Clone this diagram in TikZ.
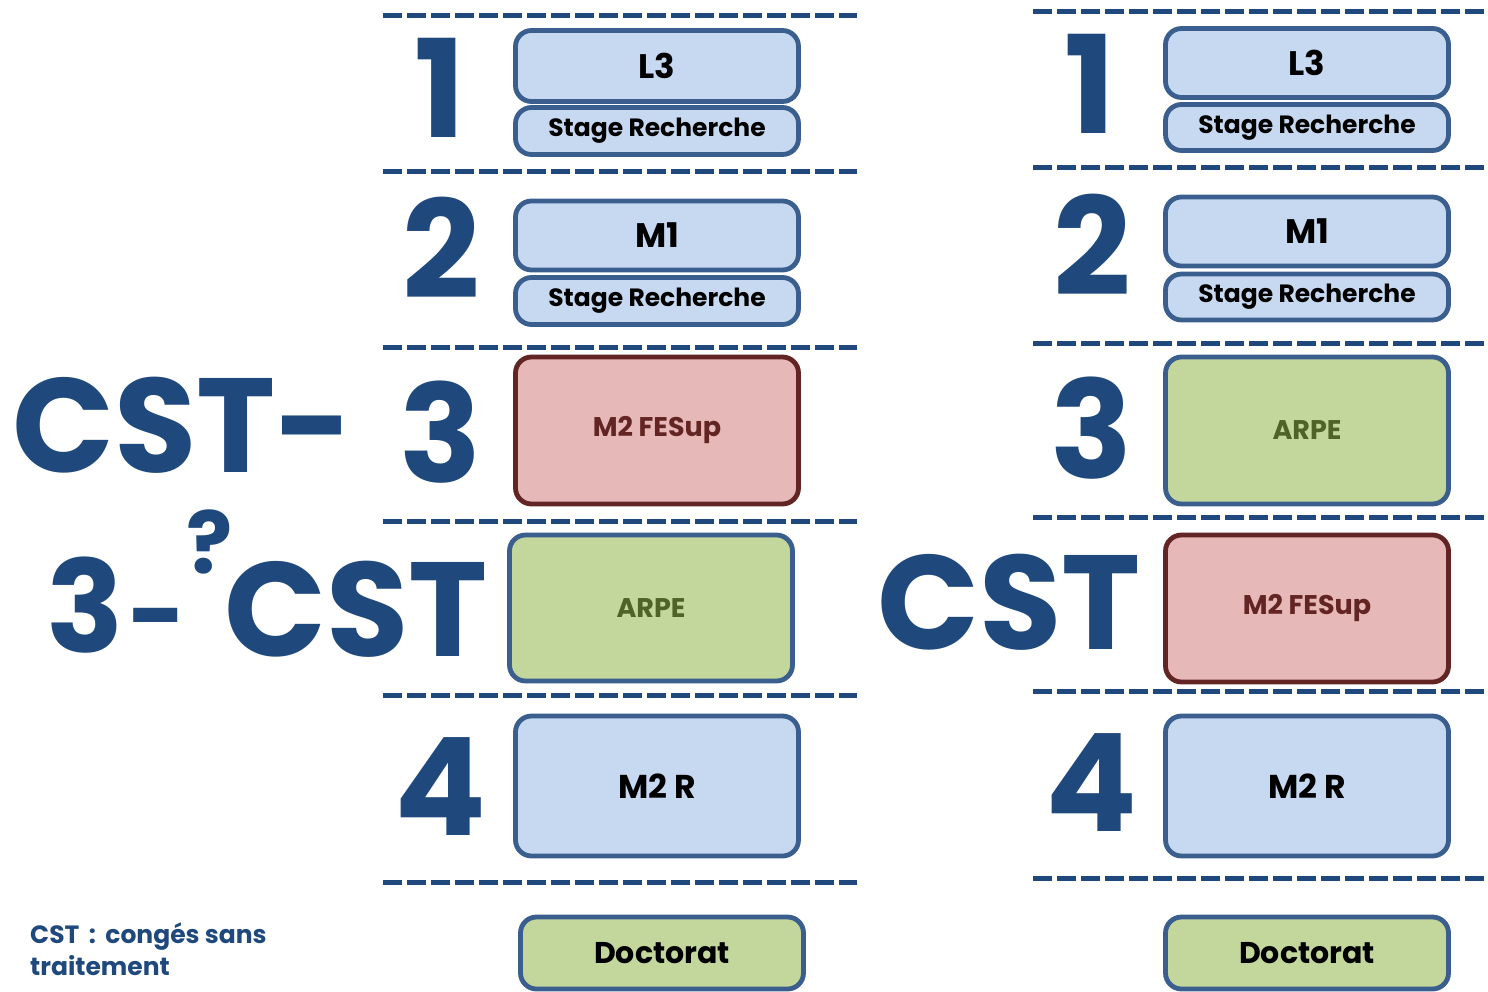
\documentclass[tikz,border=0pt]{standalone}
\usepackage{fontspec}
\setmainfont{Poppins}
\definecolor{dblue}{HTML}{1F497D}
\definecolor{bborder}{HTML}{3A5F8E}
\definecolor{bfill}{HTML}{C6D9F1}
\definecolor{rfill}{HTML}{E6B9B8}
\definecolor{rborder}{HTML}{632523}
\definecolor{gfill}{HTML}{C3D69B}
\definecolor{gtext}{HTML}{4F6228}
\tikzset{
  box/.style={draw=bborder, line width=4.8pt, rounded corners=16pt, minimum width=283pt, inner sep=0pt, font=\bfseries},
  blbox/.style={box, fill=bfill, text=black},
  rbox/.style={box, draw=rborder, fill=rfill, text=rborder},
  gbox/.style={box, fill=gfill, text=gtext},
  dbox/.style={box, fill=gfill, text=black},
  sepline/.style={draw=dblue, line width=5pt, dash pattern=on 19pt off 5pt},
  bignum/.style={text=dblue, font=\fontsize{136}{136}\selectfont\bfseries, inner sep=0pt},
  bigtxt/.style={text=dblue, font=\fontsize{134}{134}\selectfont\bfseries, inner sep=0pt, anchor=base west},
  fsL/.style={font=\fontsize{34}{34}\selectfont\bfseries},
  fsS/.style={font=\fontsize{25}{25}\selectfont\bfseries},
  fsM/.style={font=\fontsize{27}{27}\selectfont\bfseries},
  fsR/.style={font=\fontsize{33}{33}\selectfont\bfseries},
  fsD/.style={font=\fontsize{30}{30}\selectfont\bfseries},
}
\begin{document}
\begin{tikzpicture}[x=1pt,y=-1pt]
\fill[white] (0,0) rectangle (1488,991);
\useasboundingbox (0,0) rectangle (1488,991);
% separators left
\foreach \yy in {15,171,347,521,695,882} \draw[sepline] (383,\yy) -- (857,\yy);
% separators right
\foreach \yy in {11,167,343,517,691,878} \draw[sepline] (1033,\yy) -- (1488,\yy);

% left column boxes
\node[blbox, minimum height=71pt, fsL] (l3a) at (657,66) {L3};
\node[blbox, minimum height=47pt, fsS] (sra) at (657,131) {Stage Recherche};
\node[blbox, minimum height=69pt, fsL] (m1a) at (657,235.5) {M1};
\node[blbox, minimum height=47pt, fsS] (srb) at (657,301) {Stage Recherche};
\node[rbox, minimum height=147pt, fsM] (fesa) at (657,430.5) {M2 FESup};
\node[gbox, minimum height=146pt, fsM] (arpa) at (651,608) {ARPE};
\node[blbox, minimum height=140pt, fsR] (m2ra) at (657,786) {M2 R};
\node[dbox, minimum height=72pt, fsD] (doca) at (662,953) {Doctorat};

% right column boxes
\node[blbox, minimum height=69pt, fsL] (l3b) at (1307,63) {L3};
\node[blbox, minimum height=46pt, fsS] (src) at (1307,127.5) {Stage Recherche};
\node[blbox, minimum height=69pt, fsL] (m1b) at (1307,231.5) {M1};
\node[blbox, minimum height=46pt, fsS] (srd) at (1307,297) {Stage Recherche};
\node[gbox, minimum height=147pt, fsM] (arpb) at (1307,430.5) {ARPE};
\node[rbox, minimum height=147pt, fsM] (fesb) at (1307,608.5) {M2 FESup};
\node[blbox, minimum height=140pt, fsR] (m2rb) at (1307,786) {M2 R};
\node[dbox, minimum height=72pt, fsD] (docb) at (1307,953) {Doctorat};

% big numbers left
\node[bignum] (n1a) at (440,88) {1};
\node[bignum] (n2a) at (441,248) {2};
\node[bignum] (n3a) at (441,432) {3};
\node[bignum] (n4a) at (441,787) {4};
% big numbers right
\node[bignum] (n1b) at (1090,84) {1};
\node[bignum] (n2b) at (1092,245) {2};
\node[bignum] (n3b) at (1092,428) {3};
\node[bignum] (n4b) at (1092,783) {4};

% CST labels
\node[bigtxt] (cst1) at (12,472) {CST-};
\node[bigtxt, font=\fontsize{128}{128}\selectfont\bfseries] (three) at (46,652) {3};
\node[bigtxt, font=\fontsize{100}{100}\selectfont\bfseries] (dash) at (128,650) {-};
\node[text=dblue, font=\fontsize{86}{86}\selectfont\bfseries, inner sep=0pt, anchor=base west] (qm) at (186,573) {?};
\node[bigtxt] (cst2) at (224,656) {CST};
\node[bigtxt] (cst3) at (877,649) {CST};

% legend
\node[text=dblue, font=\fontsize{25}{32}\selectfont\bfseries, align=left, anchor=north west, inner sep=0pt] (leg) at (30,922) {CST \,:\, congés sans\\traitement};
\end{tikzpicture}
\end{document}
